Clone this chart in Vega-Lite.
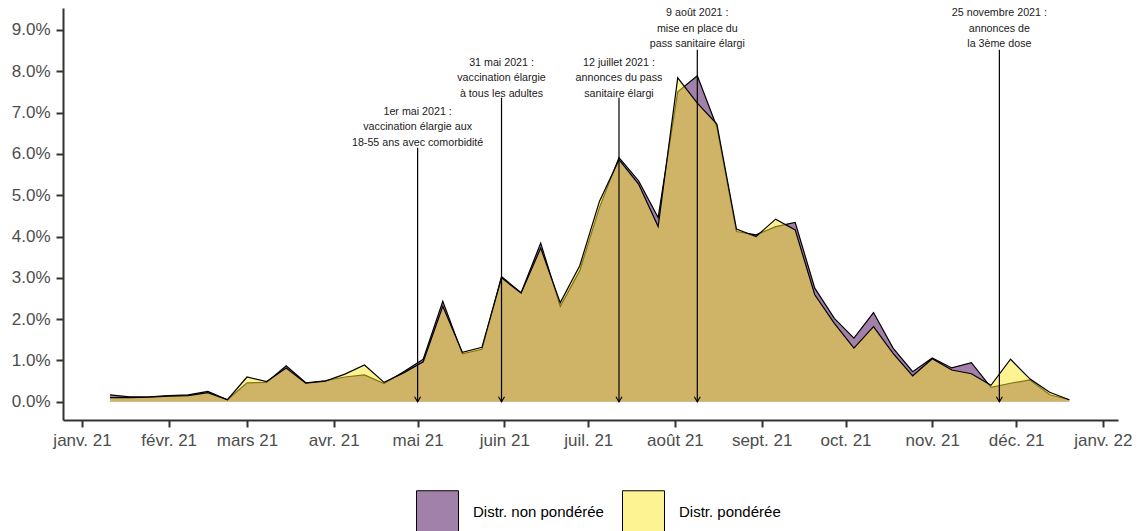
{
  "$schema": "https://vega.github.io/schema/vega-lite/v6.json",
  "width": 1055,
  "height": 412,
  "autosize": {"type": "none"},
  "padding": {"left": 63, "top": 8, "right": 20, "bottom": 111},
  "background": "white",
  "config": {
    "view": {"stroke": null},
    "font": "Liberation Sans",
    "axis": {
      "grid": false,
      "domainColor": "#333333",
      "domainWidth": 2,
      "tickColor": "#333333",
      "tickWidth": 2,
      "tickSize": 7,
      "labelColor": "#4d4d4d",
      "labelFontSize": 17,
      "labelFont": "Liberation Sans"
    }
  },
  "datasets": {
    "series": [
      {"date": "2021-01-11", "serie": "Distr. non pondérée", "v": 0.0017},
      {"date": "2021-01-18", "serie": "Distr. non pondérée", "v": 0.0012},
      {"date": "2021-01-25", "serie": "Distr. non pondérée", "v": 0.0012},
      {"date": "2021-02-01", "serie": "Distr. non pondérée", "v": 0.0015},
      {"date": "2021-02-08", "serie": "Distr. non pondérée", "v": 0.0017},
      {"date": "2021-02-15", "serie": "Distr. non pondérée", "v": 0.0025},
      {"date": "2021-02-22", "serie": "Distr. non pondérée", "v": 0.0005},
      {"date": "2021-03-01", "serie": "Distr. non pondérée", "v": 0.0046},
      {"date": "2021-03-08", "serie": "Distr. non pondérée", "v": 0.0047},
      {"date": "2021-03-15", "serie": "Distr. non pondérée", "v": 0.0087},
      {"date": "2021-03-22", "serie": "Distr. non pondérée", "v": 0.0046},
      {"date": "2021-03-29", "serie": "Distr. non pondérée", "v": 0.0051},
      {"date": "2021-04-05", "serie": "Distr. non pondérée", "v": 0.0060},
      {"date": "2021-04-12", "serie": "Distr. non pondérée", "v": 0.0065},
      {"date": "2021-04-19", "serie": "Distr. non pondérée", "v": 0.0044},
      {"date": "2021-04-26", "serie": "Distr. non pondérée", "v": 0.0073},
      {"date": "2021-05-03", "serie": "Distr. non pondérée", "v": 0.0103},
      {"date": "2021-05-10", "serie": "Distr. non pondérée", "v": 0.0243},
      {"date": "2021-05-17", "serie": "Distr. non pondérée", "v": 0.0116},
      {"date": "2021-05-24", "serie": "Distr. non pondérée", "v": 0.0127},
      {"date": "2021-05-31", "serie": "Distr. non pondérée", "v": 0.0303},
      {"date": "2021-06-07", "serie": "Distr. non pondérée", "v": 0.0264},
      {"date": "2021-06-14", "serie": "Distr. non pondérée", "v": 0.0384},
      {"date": "2021-06-21", "serie": "Distr. non pondérée", "v": 0.0231},
      {"date": "2021-06-28", "serie": "Distr. non pondérée", "v": 0.0318},
      {"date": "2021-07-05", "serie": "Distr. non pondérée", "v": 0.0470},
      {"date": "2021-07-12", "serie": "Distr. non pondérée", "v": 0.0591},
      {"date": "2021-07-19", "serie": "Distr. non pondérée", "v": 0.0535},
      {"date": "2021-07-26", "serie": "Distr. non pondérée", "v": 0.0446},
      {"date": "2021-08-02", "serie": "Distr. non pondérée", "v": 0.0750},
      {"date": "2021-08-09", "serie": "Distr. non pondérée", "v": 0.0789},
      {"date": "2021-08-16", "serie": "Distr. non pondérée", "v": 0.0665},
      {"date": "2021-08-23", "serie": "Distr. non pondérée", "v": 0.0412},
      {"date": "2021-08-30", "serie": "Distr. non pondérée", "v": 0.0404},
      {"date": "2021-09-06", "serie": "Distr. non pondérée", "v": 0.0424},
      {"date": "2021-09-13", "serie": "Distr. non pondérée", "v": 0.0434},
      {"date": "2021-09-20", "serie": "Distr. non pondérée", "v": 0.0275},
      {"date": "2021-09-27", "serie": "Distr. non pondérée", "v": 0.0202},
      {"date": "2021-10-04", "serie": "Distr. non pondérée", "v": 0.0154},
      {"date": "2021-10-11", "serie": "Distr. non pondérée", "v": 0.0216},
      {"date": "2021-10-18", "serie": "Distr. non pondérée", "v": 0.0130},
      {"date": "2021-10-25", "serie": "Distr. non pondérée", "v": 0.0073},
      {"date": "2021-11-01", "serie": "Distr. non pondérée", "v": 0.0106},
      {"date": "2021-11-08", "serie": "Distr. non pondérée", "v": 0.0082},
      {"date": "2021-11-15", "serie": "Distr. non pondérée", "v": 0.0095},
      {"date": "2021-11-22", "serie": "Distr. non pondérée", "v": 0.0035},
      {"date": "2021-11-29", "serie": "Distr. non pondérée", "v": 0.0045},
      {"date": "2021-12-06", "serie": "Distr. non pondérée", "v": 0.0053},
      {"date": "2021-12-13", "serie": "Distr. non pondérée", "v": 0.0017},
      {"date": "2021-12-20", "serie": "Distr. non pondérée", "v": 0.0005},
      {"date": "2021-01-11", "serie": "Distr. pondérée", "v": 0.0010},
      {"date": "2021-01-18", "serie": "Distr. pondérée", "v": 0.0010},
      {"date": "2021-01-25", "serie": "Distr. pondérée", "v": 0.0011},
      {"date": "2021-02-01", "serie": "Distr. pondérée", "v": 0.0014},
      {"date": "2021-02-08", "serie": "Distr. pondérée", "v": 0.0015},
      {"date": "2021-02-15", "serie": "Distr. pondérée", "v": 0.0022},
      {"date": "2021-02-22", "serie": "Distr. pondérée", "v": 0.0005},
      {"date": "2021-03-01", "serie": "Distr. pondérée", "v": 0.0060},
      {"date": "2021-03-08", "serie": "Distr. pondérée", "v": 0.0049},
      {"date": "2021-03-15", "serie": "Distr. pondérée", "v": 0.0082},
      {"date": "2021-03-22", "serie": "Distr. pondérée", "v": 0.0045},
      {"date": "2021-03-29", "serie": "Distr. pondérée", "v": 0.0050},
      {"date": "2021-04-05", "serie": "Distr. pondérée", "v": 0.0067},
      {"date": "2021-04-12", "serie": "Distr. pondérée", "v": 0.0089},
      {"date": "2021-04-19", "serie": "Distr. pondérée", "v": 0.0047},
      {"date": "2021-04-26", "serie": "Distr. pondérée", "v": 0.0070},
      {"date": "2021-05-03", "serie": "Distr. pondérée", "v": 0.0097},
      {"date": "2021-05-10", "serie": "Distr. pondérée", "v": 0.0231},
      {"date": "2021-05-17", "serie": "Distr. pondérée", "v": 0.0120},
      {"date": "2021-05-24", "serie": "Distr. pondérée", "v": 0.0132},
      {"date": "2021-05-31", "serie": "Distr. pondérée", "v": 0.0300},
      {"date": "2021-06-07", "serie": "Distr. pondérée", "v": 0.0263},
      {"date": "2021-06-14", "serie": "Distr. pondérée", "v": 0.0372},
      {"date": "2021-06-21", "serie": "Distr. pondérée", "v": 0.0240},
      {"date": "2021-06-28", "serie": "Distr. pondérée", "v": 0.0330},
      {"date": "2021-07-05", "serie": "Distr. pondérée", "v": 0.0485},
      {"date": "2021-07-12", "serie": "Distr. pondérée", "v": 0.0586},
      {"date": "2021-07-19", "serie": "Distr. pondérée", "v": 0.0527},
      {"date": "2021-07-26", "serie": "Distr. pondérée", "v": 0.0424},
      {"date": "2021-08-02", "serie": "Distr. pondérée", "v": 0.0784},
      {"date": "2021-08-09", "serie": "Distr. pondérée", "v": 0.0723},
      {"date": "2021-08-16", "serie": "Distr. pondérée", "v": 0.0672},
      {"date": "2021-08-23", "serie": "Distr. pondérée", "v": 0.0418},
      {"date": "2021-08-30", "serie": "Distr. pondérée", "v": 0.0400},
      {"date": "2021-09-06", "serie": "Distr. pondérée", "v": 0.0442},
      {"date": "2021-09-13", "serie": "Distr. pondérée", "v": 0.0416},
      {"date": "2021-09-20", "serie": "Distr. pondérée", "v": 0.0259},
      {"date": "2021-09-27", "serie": "Distr. pondérée", "v": 0.0190},
      {"date": "2021-10-04", "serie": "Distr. pondérée", "v": 0.0130},
      {"date": "2021-10-11", "serie": "Distr. pondérée", "v": 0.0182},
      {"date": "2021-10-18", "serie": "Distr. pondérée", "v": 0.0117},
      {"date": "2021-10-25", "serie": "Distr. pondérée", "v": 0.0063},
      {"date": "2021-11-01", "serie": "Distr. pondérée", "v": 0.0104},
      {"date": "2021-11-08", "serie": "Distr. pondérée", "v": 0.0077},
      {"date": "2021-11-15", "serie": "Distr. pondérée", "v": 0.0068},
      {"date": "2021-11-22", "serie": "Distr. pondérée", "v": 0.0040},
      {"date": "2021-11-29", "serie": "Distr. pondérée", "v": 0.0103},
      {"date": "2021-12-06", "serie": "Distr. pondérée", "v": 0.0055},
      {"date": "2021-12-13", "serie": "Distr. pondérée", "v": 0.0023},
      {"date": "2021-12-20", "serie": "Distr. pondérée", "v": 0.0005}
    ],
    "annot": [
      {"date": "2021-05-01", "top": 0.0615, "ytext": 0.0714, "label": "1er mai 2021 :\nvaccination élargie aux\n18-55 ans avec comorbidité"},
      {"date": "2021-05-31", "top": 0.0736, "ytext": 0.0833, "label": "31 mai 2021 :\nvaccination élargie\nà tous les adultes"},
      {"date": "2021-07-12", "top": 0.0736, "ytext": 0.0833, "label": "12 juillet 2021 :\nannonces du pass\nsanitaire élargi"},
      {"date": "2021-08-09", "top": 0.0852, "ytext": 0.0952, "label": "9 août 2021 :\nmise en place du\npass sanitaire élargi"},
      {"date": "2021-11-25", "top": 0.0852, "ytext": 0.0952, "label": "25 novembre 2021 :\nannonces de\nla 3ème dose"}
    ]
  },
  "layer": [
    {
      "data": {"name": "series"},
      "transform": [{"filter": "datum.serie === 'Distr. non pondérée'"}],
      "mark": {"type": "area", "fillOpacity": 0.5},
      "encoding": {
        "x": {
          "field": "date", "type": "temporal", "title": null,
          "scale": {"type": "utc", "domain": [
            {"year": 2020, "month": 12, "date": 25, "hours": 5, "utc": true},
            {"year": 2022, "month": 1, "date": 6, "hours": 10, "utc": true}
          ]},
          "axis": {
            "values": [
              {"year": 2021, "month": 1, "date": 1, "utc": true},
              {"year": 2021, "month": 2, "date": 1, "utc": true},
              {"year": 2021, "month": 3, "date": 1, "utc": true},
              {"year": 2021, "month": 4, "date": 1, "utc": true},
              {"year": 2021, "month": 5, "date": 1, "utc": true},
              {"year": 2021, "month": 6, "date": 1, "utc": true},
              {"year": 2021, "month": 7, "date": 1, "utc": true},
              {"year": 2021, "month": 8, "date": 1, "utc": true},
              {"year": 2021, "month": 9, "date": 1, "utc": true},
              {"year": 2021, "month": 10, "date": 1, "utc": true},
              {"year": 2021, "month": 11, "date": 1, "utc": true},
              {"year": 2021, "month": 12, "date": 1, "utc": true},
              {"year": 2022, "month": 1, "date": 1, "utc": true}
            ],
            "labelExpr": "['janv.','févr.','mars','avr.','mai','juin','juil.','août','sept.','oct.','nov.','déc.'][utcmonth(datum.value)] + ' ' + utcFormat(datum.value, '%y')",
            "labelOverlap": false,
            "labelFlush": false,
            "labelPadding": 5
          }
        },
        "y": {
          "field": "v", "type": "quantitative", "title": null,
          "scale": {"domain": [-0.0044, 0.0953], "nice": false, "zero": false},
          "axis": {
            "values": [0, 0.01, 0.02, 0.03, 0.04, 0.05, 0.06, 0.07, 0.08, 0.09],
            "format": ".1%",
            "labelPadding": 6
          }
        },
        "color": {
          "field": "serie", "type": "nominal",
          "scale": {"domain": ["Distr. non pondérée", "Distr. pondérée"], "range": ["#440154", "#FDE725"]},
          "legend": {
            "title": null,
            "orient": "none",
            "legendX": 353,
            "legendY": 482,
            "direction": "horizontal",
            "symbolType": "square",
            "symbolSize": 1764,
            "symbolStrokeColor": "black",
            "symbolStrokeWidth": 1,
            "labelFontSize": 15,
            "labelColor": "black",
            "labelFont": "Liberation Sans",
            "labelOffset": 14,
            "columnPadding": 16,
            "padding": 0,
            "labelLimit": 300,
            "encode": {"symbols": {"update": {"fillOpacity": {"value": 0.5}, "stroke": {"value": "black"}, "strokeWidth": {"value": 1}}}}
          }
        }
      }
    },
    {
      "data": {"name": "series"},
      "transform": [{"filter": "datum.serie === 'Distr. non pondérée'"}],
      "mark": {"type": "line", "color": "black", "strokeWidth": 1.2},
      "encoding": {
        "x": {"field": "date", "type": "temporal", "title": null},
        "y": {"field": "v", "type": "quantitative", "title": null}
      }
    },
    {
      "data": {"name": "series"},
      "transform": [{"filter": "datum.serie === 'Distr. pondérée'"}],
      "mark": {"type": "area", "fillOpacity": 0.5},
      "encoding": {
        "x": {"field": "date", "type": "temporal", "title": null},
        "y": {"field": "v", "type": "quantitative", "title": null},
        "color": {"field": "serie", "type": "nominal"}
      }
    },
    {
      "data": {"name": "series"},
      "transform": [{"filter": "datum.serie === 'Distr. pondérée'"}],
      "mark": {"type": "line", "color": "black", "strokeWidth": 1.2},
      "encoding": {
        "x": {"field": "date", "type": "temporal", "title": null},
        "y": {"field": "v", "type": "quantitative", "title": null}
      }
    },
    {
      "data": {"name": "annot"},
      "mark": {"type": "rule", "color": "black", "strokeWidth": 1.2},
      "encoding": {
        "x": {"field": "date", "type": "temporal", "title": null},
        "y": {"field": "top", "type": "quantitative", "title": null},
        "y2": {"datum": 0}
      }
    },
    {
      "data": {"name": "annot"},
      "mark": {"type": "point", "shape": "M-1,-1.7L0,0L1,-1.7", "filled": false, "stroke": "black", "strokeWidth": 1.1, "size": 36, "opacity": 1},
      "encoding": {
        "x": {"field": "date", "type": "temporal", "title": null},
        "y": {"datum": 0, "type": "quantitative", "title": null}
      }
    },
    {
      "data": {"name": "annot"},
      "mark": {"type": "text", "align": "center", "baseline": "top", "lineBreak": "\n", "lineHeight": 15.5, "fontSize": 10.7, "font": "Liberation Sans", "color": "#1a1a1a"},
      "encoding": {
        "x": {"field": "date", "type": "temporal", "title": null},
        "y": {"field": "ytext", "type": "quantitative", "title": null},
        "text": {"field": "label"}
      }
    }
  ]
}
